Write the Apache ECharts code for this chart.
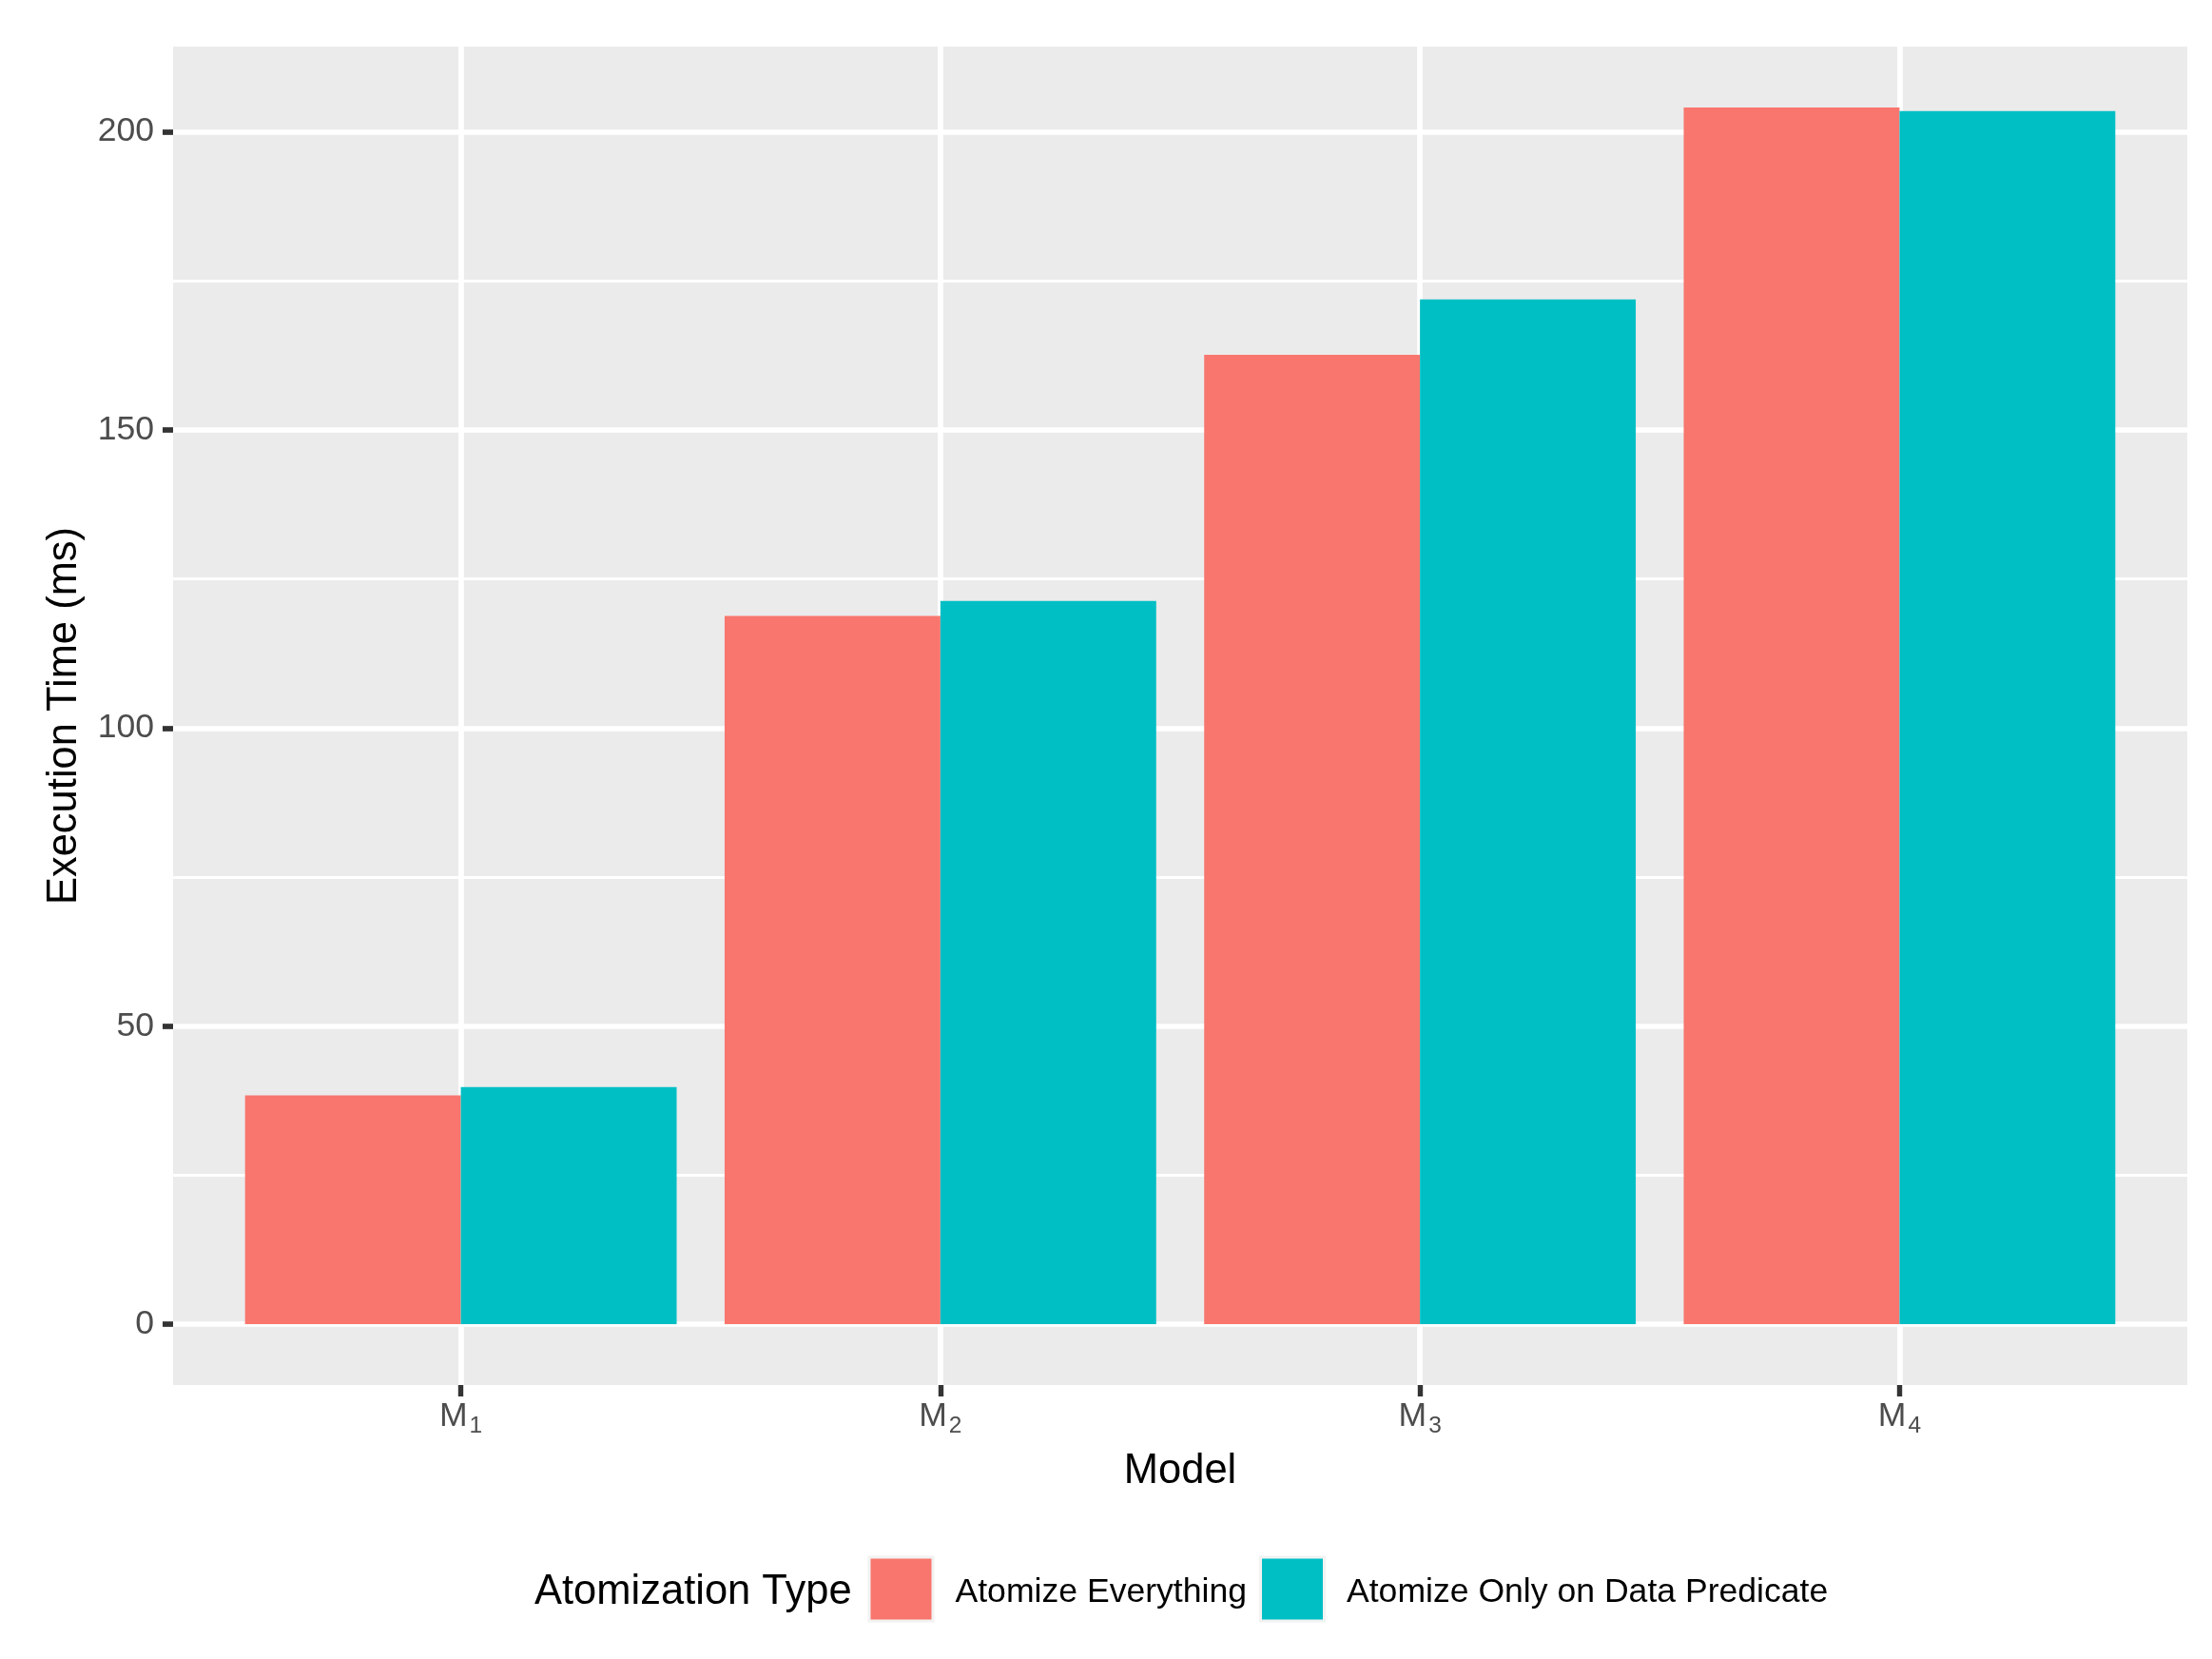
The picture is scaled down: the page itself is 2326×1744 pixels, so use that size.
<!DOCTYPE html>
<html>
<head>
<meta charset="utf-8">
<script src="https://cdn.jsdelivr.net/npm/echarts@6/dist/echarts.min.js"></script>
<style>
html,body{margin:0;padding:0;background:#fff;}
#chart{width:2326px;height:1744px;}
</style>
</head>
<body>
<div id="chart"></div>
<script>
const categories = ['M1', 'M2', 'M3', 'M4'];
const seriesNames = ['Atomize Everything', 'Atomize Only on Data Predicate'];
const atomizeEverything = [38.4, 118.8, 162.6, 204.1];
const atomizeDataPredicate = [39.8, 121.3, 171.9, 203.5];
const yMajorTicks = [0, 50, 100, 150, 200];
const yMinorTicks = [25, 75, 125, 175];
const yMin = -10.2;
const yMax = 214.3;

const FONT = "'Liberation Sans', Arial, Helvetica, sans-serif";
const chart = echarts.init(document.getElementById('chart'), null, {renderer: 'canvas'});

const gridTop = 49, gridHeight = 1407;
const option = {
  backgroundColor: '#ffffff',
  animation: false,
  textStyle: {fontFamily: FONT},
  grid: [
    {left: 182, top: gridTop, width: 2118, height: gridHeight, show: true,
     backgroundColor: '#EBEBEB', borderWidth: 0, z: 0},
    {left: 484.6, top: gridTop, width: 1512.8, height: gridHeight, show: false, z: 1}
  ],
  xAxis: [
    {gridIndex: 0, type: 'value', min: 0, max: 1, show: false},
    {gridIndex: 1, type: 'category', data: categories, boundaryGap: false, z: 1,
     axisLine: {show: false, onZero: false},
     axisTick: {show: true, length: 12, lineStyle: {color: '#333333', width: 5.4}},
     splitLine: {show: true, lineStyle: {color: '#ffffff', width: 5.7}},
     axisLabel: {
       margin: 11, color: '#4D4D4D',
       formatter: v => '{m|' + v.charAt(0) + '}{s|' + v.slice(1) + '}',
       rich: {
         m: {fontSize: 35.6, fontFamily: FONT, color: '#4D4D4D'},
         s: {fontSize: 24.5, fontFamily: FONT, color: '#4D4D4D', padding: [20, 0, 0, 2]}
       }
     },
     name: 'Model', nameLocation: 'middle', nameGap: 69,
     nameTextStyle: {fontSize: 43.5, color: '#000000', fontFamily: FONT}
    }
  ],
  yAxis: [
    {gridIndex: 0, type: 'value', min: yMin, max: yMax, z: 1,
     axisLine: {show: false},
     axisTick: {show: true, length: 11, customValues: yMajorTicks, lineStyle: {color: '#333333', width: 5.7}},
     axisLabel: {show: true, margin: 20, customValues: yMajorTicks, color: '#4D4D4D', fontSize: 35.6, fontFamily: FONT},
     splitLine: {show: true, lineStyle: {color: '#ffffff', width: 5.7}},
     name: 'Execution Time (ms)', nameLocation: 'middle', nameRotate: 90, nameGap: 92,
     nameTextStyle: {fontSize: 43.5, color: '#000000', fontFamily: FONT}
    },
    {gridIndex: 0, type: 'value', min: yMin, max: yMax, z: 1,
     axisLine: {show: false},
     axisTick: {show: false, customValues: yMinorTicks},
     axisLabel: {show: false, customValues: yMinorTicks},
     splitLine: {show: true, lineStyle: {color: '#ffffff', width: 2.85}}
    },
    {gridIndex: 1, type: 'value', min: yMin, max: yMax, show: false}
  ],
  legend: {
    data: seriesNames,
    left: 912.5, top: 1635.5, padding: 0,
    orient: 'horizontal', icon: 'rect',
    itemWidth: 67, itemHeight: 67, itemGap: 13,
    itemStyle: {borderColor: '#F2F2F2', borderWidth: 3},
    formatter: name => '{t|' + name + '}',
    textStyle: {fontSize: 35.6, color: '#000000', fontFamily: FONT, padding: [0, 0, 0, 18.5],
      rich: {t: {fontSize: 35.6, color: '#000000', fontFamily: FONT, padding: [8, 0, 0, 0]}}}
  },
  graphic: [
    {type: 'text', x: 562, y: 1674, style: {text: 'Atomization Type', fontSize: 43.5, fontFamily: FONT,
      fill: '#000000', verticalAlign: 'middle', align: 'left'}}
  ],
  series: [
    {name: seriesNames[0], type: 'bar', xAxisIndex: 1, yAxisIndex: 2, data: atomizeEverything,
     barWidth: '45%', barGap: '0%', clip: false, z: 2,
     itemStyle: {color: '#F8766D'}},
    {name: seriesNames[1], type: 'bar', xAxisIndex: 1, yAxisIndex: 2, data: atomizeDataPredicate,
     barWidth: '45%', barGap: '0%', clip: false, z: 2,
     itemStyle: {color: '#00BFC4'}}
  ]
};
chart.setOption(option);
</script>
</body>
</html>
